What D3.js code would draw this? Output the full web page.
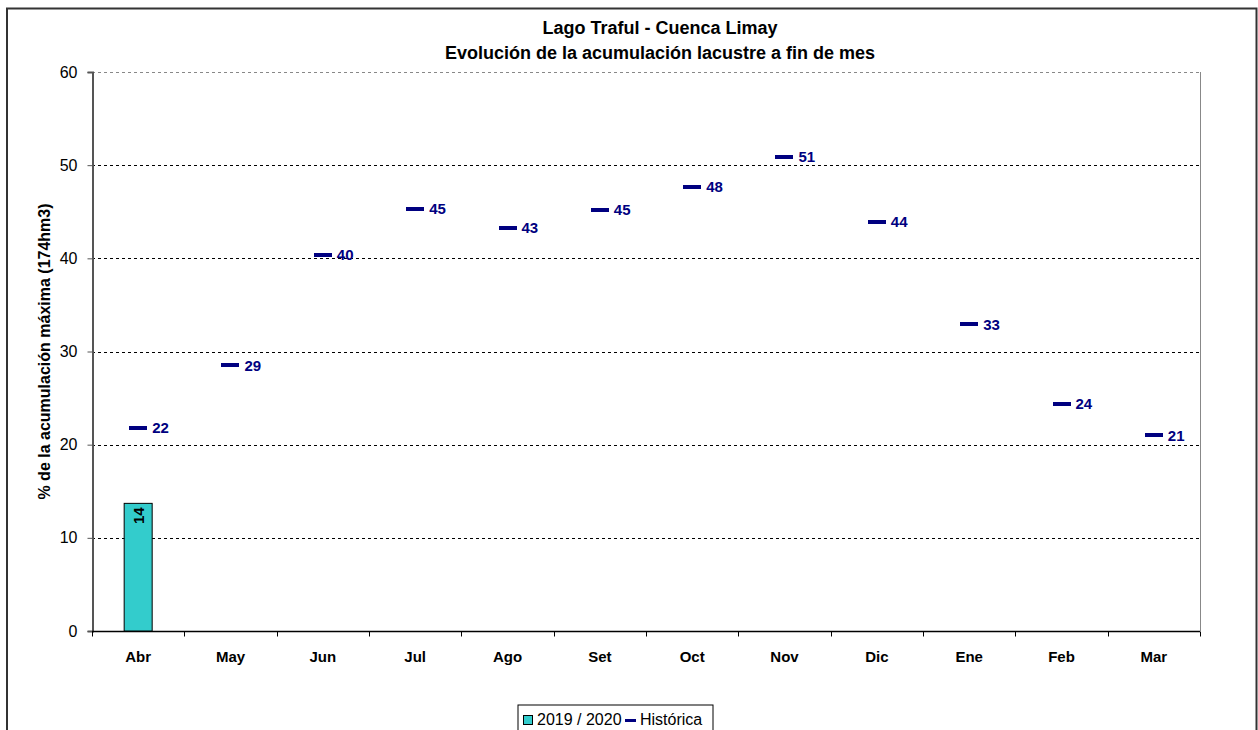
<!DOCTYPE html>
<html>
<head>
<meta charset="utf-8">
<script src="https://cdn.jsdelivr.net/npm/d3@7"></script>
<style>
  html, body { margin: 0; padding: 0; background: #fff; }
  svg { display: block; font-family: Arial, "Liberation Sans", sans-serif; }
</style>
</head>
<body>
<svg id="chart" width="1258" height="730"></svg>
<script>
// Months of the hydrological year (April to March)
const months = ["Abr", "May", "Jun", "Jul", "Ago", "Set", "Oct", "Nov", "Dic", "Ene", "Feb", "Mar"];
// Current season accumulation (% of max), only April available
const season2019 = [13.7, null, null, null, null, null, null, null, null, null, null, null];
// Historical average accumulation per month (% of max)
const historica = [21.8, 28.5, 40.4, 45.3, 43.3, 45.2, 47.7, 50.9, 43.9, 32.9, 24.4, 21.0];
// Value axis ticks
const yTicks = [0, 10, 20, 30, 40, 50, 60];

const titleLines = ["Lago Traful - Cuenca Limay", "Evolución de la acumulación lacustre a fin de mes"];
const yTitle = "% de la acumulación máxima (174hm3)";
const legendNames = ["2019 / 2020", "Histórica"];

const barColor = "#33CCCC";
const histColor = "#000080";

const svg = d3.select("#chart");
const W = 1258, H = 730;
const plot = { left: 92, right: 1200, top: 72, bottom: 631 };

// Outer chart frame
svg.append("rect")
  .attr("x", 7).attr("y", 8.5)
  .attr("width", 1249.5).attr("height", H)
  .attr("fill", "#fff").attr("stroke", "#333").attr("stroke-width", 2);

const x = d3.scaleBand().domain(months).range([plot.left, plot.right]).padding(0);
const y = d3.scaleLinear().domain([0, 60]).range([plot.bottom, plot.top]);

// Horizontal dashed gridlines
svg.append("g").selectAll("line")
  .data(yTicks.filter(d => d > 0))
  .join("line")
  .attr("x1", plot.left).attr("x2", plot.right)
  .attr("y1", d => Math.round(y(d)) + 0.5).attr("y2", d => Math.round(y(d)) + 0.5)
  .attr("stroke", d => d === 60 ? "#888" : "#000")
  .attr("stroke-width", 1)
  .attr("stroke-dasharray", "3,3");

// Right border of the plot area
svg.append("line")
  .attr("x1", plot.right + 0.5).attr("x2", plot.right + 0.5)
  .attr("y1", plot.top).attr("y2", plot.bottom)
  .attr("stroke", "#888").attr("stroke-width", 1);

// Y axis
const yAxis = svg.append("g")
  .attr("transform", `translate(${plot.left + 0.5},0)`)
  .call(d3.axisLeft(y).tickValues(yTicks).tickSize(5).tickPadding(10).tickFormat(d3.format("d")));
yAxis.select(".domain").attr("stroke", "#555").attr("stroke-width", 2);
yAxis.selectAll(".tick line").attr("stroke", "#555");
yAxis.selectAll(".tick text").attr("font-size", 16).attr("fill", "#000")
  .attr("font-family", "Arial, 'Liberation Sans', sans-serif");

// X axis with ticks at category boundaries
const xAxisG = svg.append("g").attr("transform", `translate(0,${plot.bottom + 0.5})`);
xAxisG.append("line")
  .attr("x1", plot.left).attr("x2", plot.right)
  .attr("stroke", "#000").attr("stroke-width", 1.5);
xAxisG.selectAll("line.b")
  .data(months.map(m => x(m)).concat([plot.right]))
  .join("line").attr("class", "b")
  .attr("x1", d => Math.round(d) + 0.5).attr("x2", d => Math.round(d) + 0.5)
  .attr("y1", 0).attr("y2", 5)
  .attr("stroke", "#000");
xAxisG.selectAll("text")
  .data(months)
  .join("text")
  .attr("x", d => x(d) + x.bandwidth() / 2)
  .attr("y", 30)
  .attr("text-anchor", "middle")
  .attr("font-size", 15).attr("font-weight", "bold")
  .text(d => d);

// Season bars
const barW = 28;
const barData = months.map((m, i) => ({ m, v: season2019[i] })).filter(d => d.v != null);
svg.append("g").selectAll("rect")
  .data(barData)
  .join("rect")
  .attr("x", d => x(d.m) + x.bandwidth() / 2 - barW / 2)
  .attr("y", d => y(d.v))
  .attr("width", barW)
  .attr("height", d => y(0) - y(d.v))
  .attr("fill", barColor).attr("stroke", "#000").attr("stroke-width", 1);
svg.append("g").selectAll("text")
  .data(barData)
  .join("text")
  .attr("transform", d => `translate(${x(d.m) + x.bandwidth() / 2 + 6},${y(d.v) + 4}) rotate(-90)`)
  .attr("text-anchor", "end")
  .attr("font-size", 15).attr("font-weight", "bold").attr("fill", "#000")
  .text(d => d3.format(".0f")(d.v));

// Historical dash markers with value labels
const markW = 18;
const histData = months.map((m, i) => ({ m, v: historica[i] }));
svg.append("g").selectAll("rect")
  .data(histData)
  .join("rect")
  .attr("x", d => Math.round(x(d.m) + x.bandwidth() / 2 - markW / 2))
  .attr("y", d => Math.round(y(d.v) - 2))
  .attr("width", markW).attr("height", 4)
  .attr("fill", histColor);
svg.append("g").selectAll("text")
  .data(histData)
  .join("text")
  .attr("x", d => x(d.m) + x.bandwidth() / 2 + markW / 2 + 5)
  .attr("y", d => y(d.v) + 5.5)
  .attr("font-size", 15).attr("font-weight", "bold").attr("fill", histColor)
  .text(d => d3.format(".0f")(d.v));

// Title
svg.append("g").selectAll("text")
  .data(titleLines)
  .join("text")
  .attr("x", 660).attr("y", (d, i) => 34 + i * 25)
  .attr("text-anchor", "middle")
  .attr("font-size", 18).attr("font-weight", "bold")
  .text(d => d);

// Y axis title
svg.append("text")
  .attr("transform", `translate(50,${(plot.top + plot.bottom) / 2}) rotate(-90)`)
  .attr("text-anchor", "middle")
  .attr("font-size", 16).attr("font-weight", "bold")
  .text(yTitle);

// Legend
const lg = svg.append("g").attr("transform", "translate(518,705)");
lg.append("rect").attr("x", 0).attr("y", 0).attr("width", 195).attr("height", 30)
  .attr("fill", "#fff").attr("stroke", "#000").attr("stroke-width", 1);
lg.append("rect").attr("x", 5.5).attr("y", 10.5).attr("width", 9).attr("height", 9)
  .attr("fill", barColor).attr("stroke", "#000");
lg.append("text").attr("x", 19).attr("y", 20).attr("font-size", 16).text(legendNames[0]);
lg.append("rect").attr("x", 107).attr("y", 14).attr("width", 11).attr("height", 3).attr("fill", histColor);
lg.append("text").attr("x", 122).attr("y", 20).attr("font-size", 16).text(legendNames[1]);
</script>
</body>
</html>
